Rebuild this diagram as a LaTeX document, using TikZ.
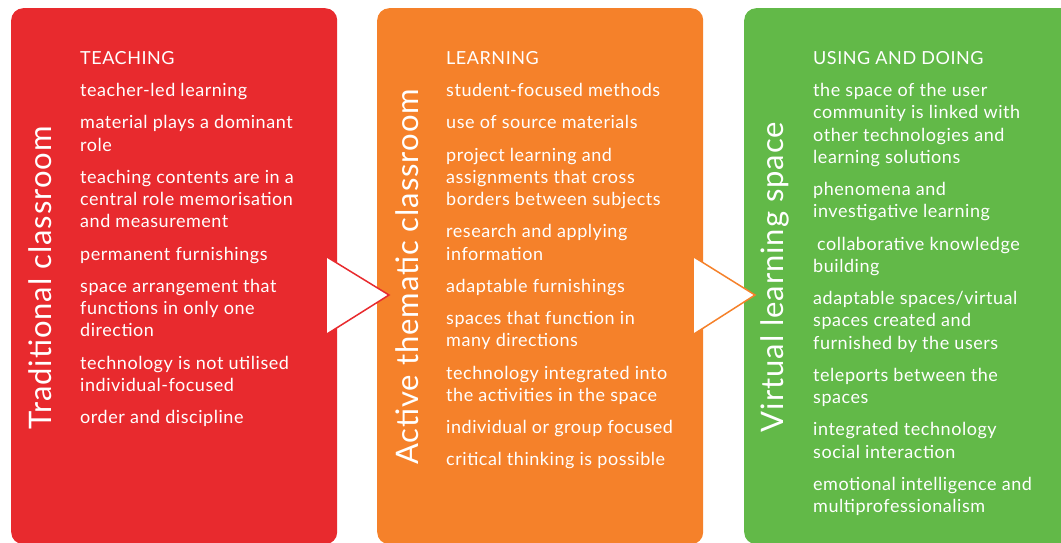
\documentclass[tikz,border=0pt]{standalone}
\usepackage{fontspec}
\setmainfont{Lato}[LetterSpace=3]
\usepackage{tikz}
\usetikzlibrary{positioning}

\definecolor{tradred}{HTML}{E82A2E}
\definecolor{activeorange}{HTML}{F5812A}
\definecolor{virtualgreen}{HTML}{62B948}

\begin{document}
\begin{tikzpicture} [x=1pt, y=-1pt,
    panel/.style={fill=#1, rounded corners=12pt, inner sep=0pt, anchor=north west, minimum height=536pt},
    title/.style={rotate=90, text=white, font=\fontsize{31}{31}\selectfont},
    list/.style={anchor=north west, align=left, inner sep=0pt, text=white, font=\fontsize{18}{22.25}\selectfont},
    pointer/.style={draw=#1, line width=1.5pt, line join=miter}]
\useasboundingbox (0,0) rectangle (1061,542);
\clip (0,0) rectangle (1061,542);
\node (trad) [panel=tradred, minimum width=326pt] at (11,8) {};
\node (active) [panel=activeorange, minimum width=326pt] at (377,8) {};
\node (virtual) [panel=virtualgreen, minimum width=330pt] at (744,8) {};

% titles
\node (tradT) [title] at (40,278) {Traditional classroom};
\node (activeT) [title] at (407,277) {Active thematic classroom};
\node (virtualT) [title] at (775,277) {Virtual learning space};

% lists
\node (tradL) [list] at (80,51) {TEACHING\\[10pt]
    teacher-led learning\\[10pt]
    material plays a dominant\\ role\\[10pt]
    teaching contents are in a\\ central role memorisation\\ and measurement\\[10pt]
    permanent furnishings\\[10pt]
    space arrangement that\\ functions in only one\\ direction\\[10pt]
    technology is not utilised\\ individual-focused\\[10pt]
    order and discipline};
\node (activeL) [list] at (446,51) {LEARNING\\[10pt]
    student-focused methods\\[10pt]
    use of source materials\\[10pt]
    project learning and\\ assignments that cross\\ borders between subjects\\[10pt]
    research and applying\\ information\\[10pt]
    adaptable furnishings\\[10pt]
    spaces that function in\\ many directions\\[10pt]
    technology integrated into\\ the activities in the space\\[10pt]
    individual or group focused\\[10pt]
    critical thinking is possible};
\node (virtualL) [list] at (813,51) {USING AND DOING\\[10pt]
    the space of the user\\ community is linked with\\ other technologies and\\ learning solutions\\[10pt]
    phenomena and\\ investigative learning\\[10pt]
    \hspace*{4pt}collaborative knowledge\\ building\\[10pt]
    adaptable spaces/virtual\\ spaces created and\\ furnished by the users\\[10pt]
    teleports between the\\ spaces\\[10pt]
    integrated technology\\ social interaction\\[10pt]
    emotional intelligence and\\ multiprofessionalism};

% arrows between panels
\coordinate (a1) at (327,257);
\coordinate (a2) at (389,295);
\coordinate (a3) at (327,334);
\fill [white] (a1) -- (a2) -- (a3) -- cycle;
\draw [pointer=tradred] (a1) -- (a2) -- (a3);
\coordinate (b1) at (694,257);
\coordinate (b2) at (755,295);
\coordinate (b3) at (694,334);
\fill [white] (b1) -- (b2) -- (b3) -- cycle;
\draw [pointer=activeorange] (b1) -- (b2) -- (b3);
\end{tikzpicture}
\end{document}
